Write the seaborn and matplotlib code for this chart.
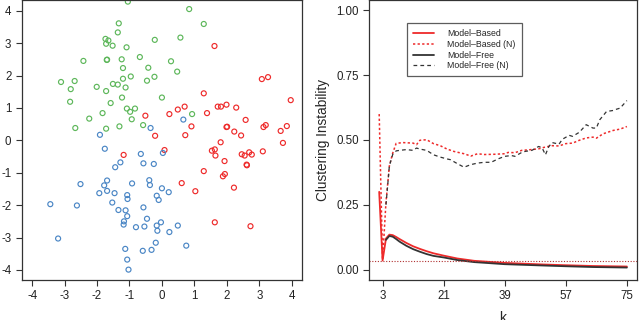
import numpy as np
import pandas as pd
import matplotlib
matplotlib.use("Agg")
import matplotlib.pyplot as plt
import seaborn as sns

# --- left panel: three clusters (x, y) ---
green_x = [-1.05, 0.84, -1.33, 1.29, -1.36, -1.74, -1.65, -0.22, 0.57, -1.72, -1.52, -1.09,
           -2.42, -1.70, -1.69, -1.24, -0.68, 0.28, -1.20, -0.42, 0.47, -3.11, -2.69, -2.81,
           -2.01, -1.51, -1.36, -1.20, -0.96, -0.46, -0.23, -1.72, -1.12, -2.83, -1.58, -1.23,
           0.00, -1.83, -1.08, -0.98, -0.83, -2.24, -0.93, 0.93, -2.67, -1.72, -1.31, -0.58]
green_y = [4.28, 4.05, 3.61, 3.59, 3.33, 3.13, 3.08, 3.10, 3.17, 2.98, 2.92, 2.87,
           2.45, 2.48, 2.49, 2.50, 2.57, 2.44, 2.23, 2.24, 2.12, 1.80, 1.83, 1.58,
           1.65, 1.74, 1.72, 1.90, 1.97, 1.84, 1.96, 1.52, 1.63, 1.19, 1.15, 1.32,
           1.32, 0.84, 0.98, 0.88, 0.98, 0.67, 0.65, 0.81, 0.38, 0.36, 0.43, 0.47]

red_x = [1.62, 3.08, 3.27, 3.97, 1.29, 1.72, 1.82, 1.99, 2.29, 0.70, 0.49, 0.23,
         1.39, -0.51, 2.58, 0.91, 1.99, 2.01, 3.13, 3.20, 3.85, 3.66, 2.23, 2.44,
         0.72, -0.21, 1.81, 3.73, 1.54, 1.63, 1.65, 0.08, -1.18, 2.46, 2.55, 2.69,
         2.77, 3.11, 1.93, 2.61, 2.62, 1.29, 1.94, 1.88, 0.61, 1.03, 2.22, 1.63, 2.73]
red_y = [2.91, 1.89, 1.95, 1.24, 1.45, 1.04, 1.04, 1.10, 1.01, 1.04, 0.95, 0.81,
         0.84, 0.76, 0.63, 0.43, 0.41, 0.42, 0.41, 0.47, 0.44, 0.29, 0.27, 0.15,
         0.16, 0.14, -0.06, -0.08, -0.32, -0.28, -0.47, -0.30, -0.45, -0.43, -0.47, -0.37,
         -0.44, -0.34, -0.64, -0.75, -0.77, -0.95, -1.04, -1.11, -1.32, -1.57, -1.46, -2.53, -2.65]

blue_x = [0.66, -0.35, -1.91, -1.76, -0.65, 0.03, -0.57, -0.25, -1.28, -1.44, -2.51, -1.69,
          -1.78, -1.93, -1.69, -1.46, -0.92, -0.39, -0.37, 0.00, 0.21, -1.07, -1.06, -0.16,
          -0.10, -3.44, -2.62, -1.53, -0.57, -1.34, -1.12, -1.07, -0.46, -1.17, -1.18, -0.80,
          -0.54, -0.03, -0.16, -0.14, 0.23, 0.49, -3.20, -0.19, 0.75, -1.13, -0.59, -0.32,
          -1.07, -1.03]
blue_y = [0.64, 0.38, 0.17, -0.26, -0.42, -0.39, -0.71, -0.73, -0.68, -0.83, -1.35, -1.24,
          -1.39, -1.63, -1.56, -1.63, -1.33, -1.23, -1.38, -1.48, -1.60, -1.69, -1.81, -1.71,
          -1.84, -1.97, -2.01, -1.92, -2.07, -2.15, -2.16, -2.34, -2.42, -2.50, -2.60, -2.68,
          -2.66, -2.53, -2.63, -2.79, -2.83, -2.63, -3.03, -3.16, -3.25, -3.35, -3.41, -3.38,
          -3.68, -3.99]

# --- right panel: instability curves ---
mb_k = [2, 3, 4, 5, 6, 7, 8, 10, 12, 14, 16, 18, 21, 25, 30, 39, 50, 57, 65, 75]
mb = [0.30, 0.035, 0.12, 0.135, 0.133, 0.126, 0.118, 0.103, 0.090, 0.080, 0.071, 0.063,
      0.054, 0.043, 0.034, 0.026, 0.020, 0.017, 0.014, 0.012]

mf_k = [4, 5, 6, 7, 8, 10, 12, 14, 16, 18, 21, 25, 30, 39, 50, 57, 65, 75]
mf = [0.115, 0.13, 0.127, 0.118, 0.108, 0.092, 0.079, 0.069, 0.060, 0.053, 0.047, 0.037,
      0.029, 0.021, 0.016, 0.013, 0.010, 0.008]

mbn_k = [2, 3, 4, 5, 6, 7, 9, 12, 13, 14, 16, 18, 20, 22, 24, 27, 29, 31, 33, 36, 39,
         40, 42, 44, 46, 49, 51, 53, 55, 57, 59, 61, 63, 65, 66, 68, 71, 73, 75]
mbn = [0.60, 0.038, 0.26, 0.40, 0.45, 0.487, 0.49, 0.488, 0.482, 0.499, 0.501, 0.486, 0.478,
       0.465, 0.456, 0.447, 0.438, 0.447, 0.444, 0.445, 0.447, 0.452, 0.451, 0.460, 0.462,
       0.466, 0.473, 0.478, 0.477, 0.486, 0.488, 0.499, 0.508, 0.511, 0.507, 0.524, 0.537,
       0.542, 0.552]

mfn_k = [4, 5, 6, 7, 8, 10, 12, 13, 14, 16, 18, 20, 22, 23, 25, 27, 29, 31, 33, 35, 37,
         39, 41, 42, 44, 45, 47, 49, 50, 51, 52, 53, 55, 56, 58, 59, 61, 63, 65, 66, 67,
         69, 71, 72, 73, 75]
mfn = [0.25, 0.40, 0.445, 0.458, 0.46, 0.463, 0.46, 0.469, 0.465, 0.46, 0.443, 0.434, 0.427,
       0.424, 0.409, 0.395, 0.405, 0.411, 0.414, 0.414, 0.427, 0.437, 0.44, 0.437, 0.452,
       0.456, 0.46, 0.475, 0.47, 0.443, 0.475, 0.49, 0.484, 0.503, 0.518, 0.514, 0.53,
       0.559, 0.546, 0.546, 0.578, 0.61, 0.614, 0.619, 0.623, 0.652]

threshold = 0.032

k_ticks = [3, 21, 39, 57, 75]
inst_ticks = [0.00, 0.25, 0.50, 0.75, 1.00]
xy_ticks = [-4, -3, -2, -1, 0, 1, 2, 3, 4]

sns.set_theme(style="ticks")
plt.rcParams["font.family"] = ["Liberation Sans", "DejaVu Sans"]
plt.rcParams["axes.unicode_minus"] = False

RED = "#EE2A2A"
GREEN = "#5DB75A"
BLUE = "#4A86C5"
DARK = "#333333"

fig = plt.figure(figsize=(6.4, 3.2), dpi=100)
ax1 = fig.add_axes([0.034, 0.125, 0.438, 0.875])
ax2 = fig.add_axes([0.577, 0.125, 0.418, 0.875])

# Scatter of the clusters (hollow circles)
for xs, ys, col in [(green_x, green_y, GREEN), (red_x, red_y, RED), (blue_x, blue_y, BLUE)]:
    sns.scatterplot(x=xs, y=ys, ax=ax1, color=col, facecolors="none", edgecolor=col,
                    s=13, linewidth=0.85, marker="o")
ax1.set_xlim(-4.32, 4.32)
ax1.set_ylim(-4.31, 4.33)
ax1.set_xticks(xy_ticks)
ax1.set_yticks(xy_ticks)

# Instability curves
sns.lineplot(x=mb_k, y=mb, ax=ax2, color=RED, linewidth=1.3, label="Model\u2013Based")
sns.lineplot(x=mbn_k, y=mbn, ax=ax2, color=RED, linewidth=1.1,
             linestyle=(0, (1.5, 1.5)), label="Model\u2013Based (N)")
sns.lineplot(x=mf_k, y=mf, ax=ax2, color=DARK, linewidth=1.3, label="Model\u2013Free")
sns.lineplot(x=mfn_k, y=mfn, ax=ax2, color=DARK, linewidth=0.9,
             linestyle=(0, (3, 2.5)), label="Model\u2013Free (N)")
ax2.axhline(threshold, color="#B03030", linewidth=0.8, linestyle=(0, (1, 1.5)))
ax2.set_xlim(-0.92, 77.92)
ax2.set_ylim(-0.04, 1.04)
ax2.set_xticks(k_ticks)
ax2.set_yticks(inst_ticks)
ax2.set_yticklabels([f"{v:.2f}" for v in inst_ticks])
ax2.set_ylabel("Clustering Instability", fontsize=9.8)
ax2.yaxis.set_label_coords(-0.147, 0.5)
ax2.set_xlabel("k", fontsize=10, labelpad=6)

leg = ax2.legend(loc="upper left", bbox_to_anchor=(0.141, 0.918), fontsize=6.3,
                 frameon=True, fancybox=False, edgecolor=DARK, handlelength=2.4,
                 borderpad=0.7, labelspacing=0.2, handletextpad=1.5, borderaxespad=0)
leg.get_frame().set_linewidth(0.9)

for ax in (ax1, ax2):
    for sp in ax.spines.values():
        sp.set_visible(True)
        sp.set_color(DARK)
        sp.set_linewidth(0.9)
    ax.tick_params(axis="both", labelsize=8.3, length=4, width=0.8, color=DARK,
                   labelcolor="#222222", pad=3.5)
    ax.grid(False)

fig.savefig("out.png", dpi=100)
